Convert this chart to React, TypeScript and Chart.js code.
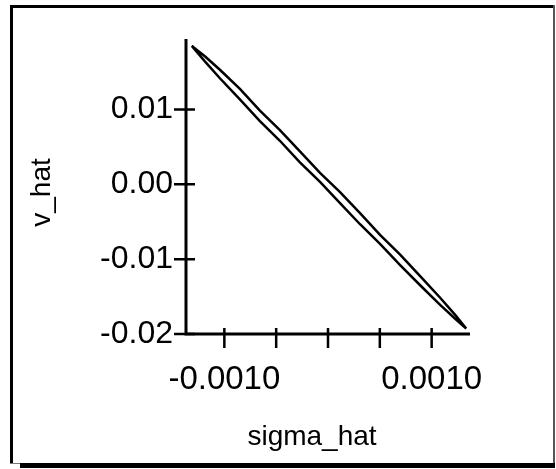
import React, { useEffect, useRef } from 'react';
import { Chart, registerables } from 'chart.js';

Chart.register(...registerables);

// sigma_hat positions shared by both branches of the loop
const sigmaHat = [
  -0.001314, -0.001188, -0.001043, -0.00085, -0.000657, -0.000464, -0.000271, -0.000077,
  0.000116, 0.000309, 0.000502, 0.000696, 0.000889, 0.001082, 0.001227, 0.001333,
];
// descending branch (upper line)
const vHatDown = [
  0.01848, 0.01709, 0.01529, 0.01274, 0.00984, 0.00722, 0.00439, 0.00151,
  -0.00104, -0.00387, -0.00676, -0.00939, -0.01228, -0.01516, -0.01744, -0.01928,
];
// returning branch (lower line)
const vHatUp = [
  0.01848, 0.01642, 0.01416, 0.01133, 0.00844, 0.00581, 0.00292, 0.00031,
  -0.00252, -0.00534, -0.00797, -0.01079, -0.01349, -0.0161, -0.01797, -0.01928,
];

const xTickValues = [-0.001, -0.0005, 0, 0.0005, 0.001];
const xTickLabels = ['-0.0010', '', '', '', '0.0010'];
const yTickValues = [-0.02, -0.01, 0, 0.01];
const yTickLabels = ['-0.02', '-0.01', '0.00', '0.01'];
const xTitle = 'sigma_hat';
const yTitle = 'v_hat';

const FONT = '"Liberation Sans", Arial, Helvetica, sans-serif';

const axesPlugin = {
  id: 'axesMarks',
  afterDraw(chart: any) {
    const { ctx, chartArea, scales } = chart;
    const xs = scales.x;
    const ys = scales.y;
    ctx.save();
    ctx.strokeStyle = '#000';
    ctx.lineCap = 'butt';
    ctx.lineWidth = 3;
    ctx.beginPath();
    ctx.moveTo(chartArea.left, chartArea.top);
    ctx.lineTo(chartArea.left, chartArea.bottom);
    ctx.lineTo(chartArea.right, chartArea.bottom);
    ctx.stroke();
    ctx.lineWidth = 2.5;
    ctx.beginPath();
    for (const v of yTickValues) {
      const py = ys.getPixelForValue(v);
      ctx.moveTo(chartArea.left - 12, py);
      ctx.lineTo(chartArea.left + 9, py);
    }
    for (const v of xTickValues) {
      const px = xs.getPixelForValue(v);
      ctx.moveTo(px, chartArea.bottom - 6);
      ctx.lineTo(px, chartArea.bottom + 14);
    }
    ctx.stroke();
    ctx.fillStyle = '#000';
    ctx.font = `28px ${FONT}`;
    ctx.textAlign = 'center';
    ctx.textBaseline = 'middle';
    ctx.fillText(xTitle, (chartArea.left + chartArea.right) / 2 - 16, 437);
    ctx.translate(42, (chartArea.top + chartArea.bottom) / 2 + 6);
    ctx.rotate(-Math.PI / 2);
    ctx.fillText(yTitle, 0, 0);
    ctx.restore();
  },
};

export default function App() {
  const canvasRef = useRef<HTMLCanvasElement | null>(null);

  useEffect(() => {
    if (!canvasRef.current) return;
    const loop = [
      ...sigmaHat.map((s, i) => ({ x: s, y: vHatDown[i] })),
      ...sigmaHat.map((s, i) => ({ x: s, y: vHatUp[i] })).reverse(),
    ];
    const chart = new Chart(canvasRef.current, {
      type: 'scatter',
      data: {
        datasets: [
          {
            data: loop,
            showLine: true,
            borderColor: '#000',
            borderWidth: 2.5,
            pointRadius: 0,
            tension: 0,
            fill: false,
            clip: false,
          } as any,
        ],
      },
      options: {
        responsive: false,
        animation: false,
        layout: { padding: { left: 0, top: 39, right: 86, bottom: 0 } },
        plugins: { legend: { display: false }, tooltip: { enabled: false } },
        scales: {
          x: {
            type: 'linear',
            min: -0.00137,
            max: 0.00137,
            grid: { display: false, drawTicks: false },
            border: { display: false },
            afterFit: (s: any) => {
              s.height = 135;
            },
            afterBuildTicks: (s: any) => {
              s.ticks = xTickValues.map((v) => ({ value: v }));
            },
            ticks: {
              padding: 26,
              color: '#000',
              font: { family: FONT, size: 33 },
              maxRotation: 0,
              autoSkip: false,
              callback: (value: any) => {
                const i = xTickValues.findIndex((t) => Math.abs(t - Number(value)) < 1e-9);
                return i >= 0 ? xTickLabels[i] : '';
              },
            },
          },
          y: {
            type: 'linear',
            min: -0.02,
            max: 0.0194,
            grid: { display: false, drawTicks: false },
            border: { display: false },
            afterFit: (s: any) => {
              s.width = 186;
            },
            afterBuildTicks: (s: any) => {
              s.ticks = yTickValues.map((v) => ({ value: v }));
            },
            ticks: {
              padding: 13,
              color: '#000',
              font: { family: FONT, size: 32 },
              autoSkip: false,
              callback: (value: any) => {
                const i = yTickValues.findIndex((t) => Math.abs(t - Number(value)) < 1e-9);
                return i >= 0 ? yTickLabels[i] : '';
              },
            },
          },
        },
      },
      plugins: [axesPlugin],
    });
    return () => chart.destroy();
  }, []);

  return (
    <div style={{ position: 'fixed', left: 0, top: 0, width: 556, height: 469, background: '#fff' }}>
      <div style={{ position: 'absolute', left: 10, top: 5, width: 545, height: 3, background: '#000' }} />
      <div style={{ position: 'absolute', left: 10, top: 5, width: 3, height: 459, background: '#000' }} />
      <div style={{ position: 'absolute', left: 553, top: 5, width: 2, height: 458, background: '#555' }} />
      <div style={{ position: 'absolute', left: 10, top: 463, width: 545, height: 1, background: '#777' }} />
      <div style={{ position: 'absolute', left: 20, top: 463, width: 535, height: 5, background: '#000' }} />
      <canvas
        ref={canvasRef}
        width={556}
        height={469}
        style={{ position: 'absolute', left: 0, top: 0, width: 556, height: 469 }}
      />
    </div>
  );
}
